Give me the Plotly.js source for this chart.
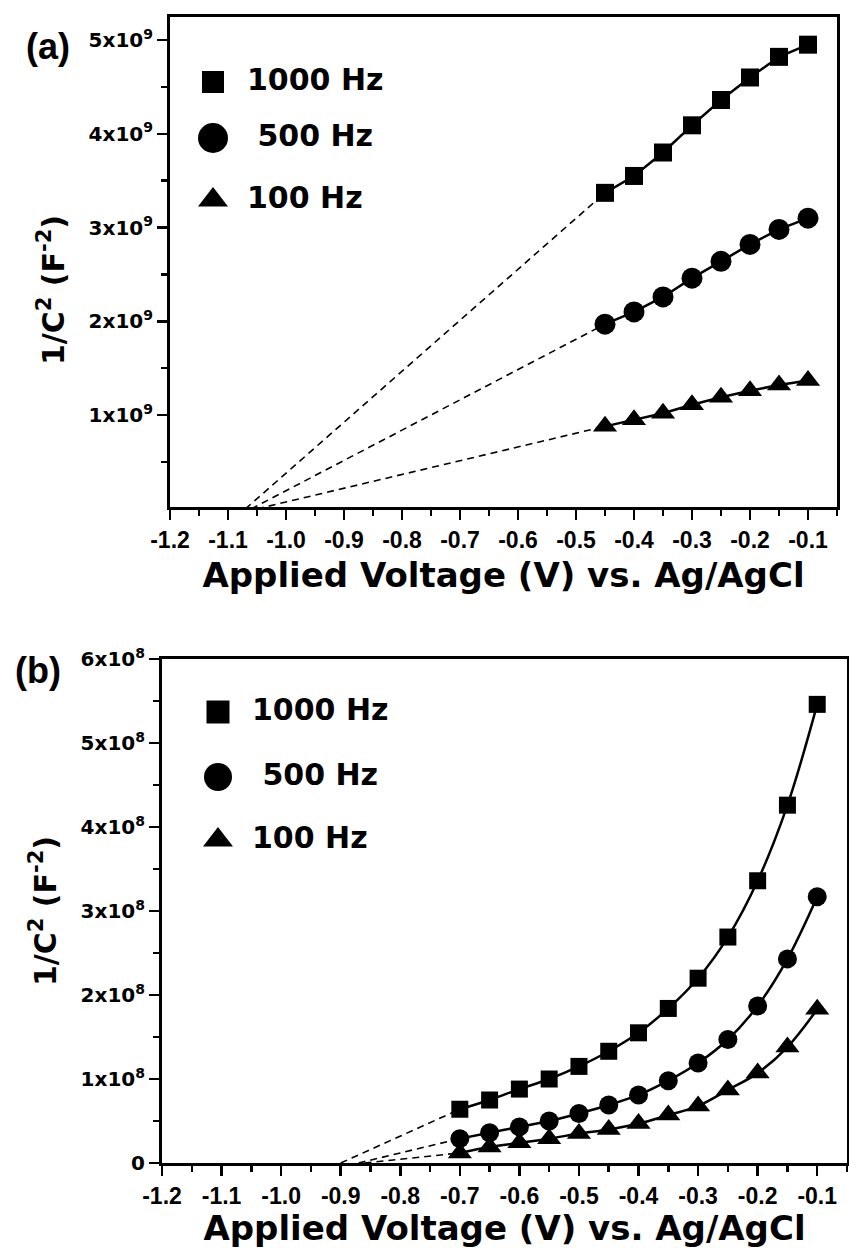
<!DOCTYPE html>
<html>
<head>
<meta charset="utf-8">
<script src="https://cdn.plot.ly/plotly-3.0.1.min.js"></script>
<style>
  html, body { margin: 0; padding: 0; background: #fff; }
  #chart { width: 849px; height: 1248px; }
</style>
</head>
<body>
<div id="chart"></div>
<script>
// ---------------- DATA ----------------
const seriesNames = ['1000 Hz', '\u00a0500 Hz', '100 Hz'];
const seriesSymbols = ['square', 'circle', 'triangle-up'];

// Panel (a)
const voltageA = [-0.45, -0.40, -0.35, -0.30, -0.25, -0.20, -0.15, -0.10];
const a1000 = [3.37e9, 3.55e9, 3.80e9, 4.09e9, 4.36e9, 4.60e9, 4.82e9, 4.95e9];
const a500  = [1.97e9, 2.10e9, 2.26e9, 2.46e9, 2.64e9, 2.82e9, 2.98e9, 3.10e9];
const a100  = [0.88e9, 0.95e9, 1.02e9, 1.11e9, 1.19e9, 1.26e9, 1.32e9, 1.37e9];
const interceptA = [-1.07, -1.06, -1.05];   // extrapolated x where 1/C^2 = 0

// Panel (b)
const voltageB = [-0.70, -0.65, -0.60, -0.55, -0.50, -0.45, -0.40, -0.35, -0.30, -0.25, -0.20, -0.15, -0.10];
const b1000 = [0.64e8, 0.75e8, 0.88e8, 1.00e8, 1.15e8, 1.33e8, 1.55e8, 1.84e8, 2.20e8, 2.69e8, 3.36e8, 4.26e8, 5.46e8];
const b500  = [0.29e8, 0.36e8, 0.43e8, 0.50e8, 0.59e8, 0.69e8, 0.81e8, 0.98e8, 1.19e8, 1.47e8, 1.87e8, 2.43e8, 3.17e8];
const b100  = [0.12e8, 0.19e8, 0.24e8, 0.29e8, 0.35e8, 0.40e8, 0.47e8, 0.57e8, 0.68e8, 0.87e8, 1.07e8, 1.38e8, 1.83e8];
const interceptB = [-0.90, -0.87, -0.86];

// Tick labels
const xTickVals = [-1.2, -1.1, -1.0, -0.9, -0.8, -0.7, -0.6, -0.5, -0.4, -0.3, -0.2, -0.1];
const xTickText = ['-1.2', '-1.1', '-1.0', '-0.9', '-0.8', '-0.7', '-0.6', '-0.5', '-0.4', '-0.3', '-0.2', '-0.1'];
const yTickValsA = [1e9, 2e9, 3e9, 4e9, 5e9];
const yTickTextA = ['1x10<sup>9</sup>', '2x10<sup>9</sup>', '3x10<sup>9</sup>', '4x10<sup>9</sup>', '5x10<sup>9</sup>'];
const yTickValsB = [0, 1e8, 2e8, 3e8, 4e8, 5e8, 6e8];
const yTickTextB = ['0', '1x10<sup>8</sup>', '2x10<sup>8</sup>', '3x10<sup>8</sup>', '4x10<sup>8</sup>', '5x10<sup>8</sup>', '6x10<sup>8</sup>'];

const xTitle = 'Applied Voltage (V) vs. Ag/AgCl';
const yTitle = '1/C<sup>2</sup> (F<sup>-2</sup>)';

// ---------------- STYLE ----------------
const W = 849, H = 1248;
const BLACK = '#000';
const markerSizesA = [18, 21, 21];
const markerSizesB = [17, 19, 21];
const legendSizesA = [22, 30, 26];
const legendSizesB = [23, 28, 26];

const seriesA = [a1000, a500, a100];
const seriesB = [b1000, b500, b100];
const bold = s => '<b>' + s + '</b>';

const traces = [];

// dashed extrapolation lines
seriesA.forEach((ys, i) => {
  traces.push({
    x: [interceptA[i], voltageA[0]], y: [0, ys[0]],
    xaxis: 'x', yaxis: 'y', mode: 'lines', showlegend: false, hoverinfo: 'skip',
    line: { color: BLACK, width: 1.6, dash: '7px,5px' }
  });
});
seriesB.forEach((ys, i) => {
  traces.push({
    x: [interceptB[i], voltageB[0]], y: [0, ys[0]],
    xaxis: 'x2', yaxis: 'y2', mode: 'lines', showlegend: false, hoverinfo: 'skip',
    line: { color: BLACK, width: 1.6, dash: '7px,5px' }
  });
});

// data series
seriesA.forEach((ys, i) => {
  traces.push({
    x: voltageA, y: ys, xaxis: 'x', yaxis: 'y', name: seriesNames[i],
    mode: 'lines+markers', showlegend: false,
    line: { color: BLACK, width: 2.5 },
    marker: { symbol: seriesSymbols[i], size: markerSizesA[i], color: BLACK, opacity: 1 }
  });
});
seriesB.forEach((ys, i) => {
  traces.push({
    x: voltageB, y: ys, xaxis: 'x2', yaxis: 'y2', name: seriesNames[i],
    mode: 'lines+markers', showlegend: false,
    line: { color: BLACK, width: 2.5, shape: 'spline', smoothing: 1 },
    marker: { symbol: seriesSymbols[i], size: markerSizesB[i], color: BLACK, opacity: 1 }
  });
});

// Custom legends drawn in pixel-unit overlay axes
function addLegend(xa, ya, symX, textX, rowYs, sizes) {
  traces.push({
    x: rowYs.map(() => symX), y: rowYs, xaxis: xa, yaxis: ya, mode: 'markers',
    showlegend: false, hoverinfo: 'skip', cliponaxis: false,
    marker: { symbol: seriesSymbols, size: sizes, color: BLACK, opacity: 1, line: { width: 0 } }
  });
  traces.push({
    x: rowYs.map(() => textX), y: rowYs, xaxis: xa, yaxis: ya, mode: 'text',
    text: seriesNames.map(bold), textposition: 'middle right', showlegend: false, hoverinfo: 'skip',
    cliponaxis: false,
    textfont: { family: 'DejaVu Sans', size: 30, weight: 'bold', color: BLACK }
  });
}
addLegend('x3', 'y3', 213, 247, [82, 138, 200], legendSizesA);
addLegend('x4', 'y4', 218, 252, [712, 777, 840], legendSizesB);

const tickFontX = { family: 'Liberation Sans', size: 23, weight: 'bold', color: BLACK };
const tickFontY = { family: 'DejaVu Sans', size: 20, weight: 'bold', color: BLACK };
const xTitleFont = { family: 'DejaVu Sans', size: 34, weight: 'bold', color: BLACK };
const yTitleFont = { family: 'DejaVu Sans', size: 30, weight: 'bold', color: BLACK };

function xAxis(domainPx, anchor) {
  return {
    domain: [domainPx[0] / W, domainPx[1] / W], anchor: anchor,
    range: [-1.2, -0.05], tickmode: 'array', tickvals: xTickVals, ticktext: xTickText.map(bold),
    ticks: 'outside', ticklen: 10, tickwidth: 2.5, tickcolor: BLACK,
    minor: { ticks: 'outside', ticklen: 6, tickwidth: 2.5, tickcolor: BLACK, dtick: 0.05, tick0: -1.2 },
    showline: true, linewidth: 3, linecolor: BLACK, mirror: true,
    showgrid: false, zeroline: false, tickfont: tickFontX,
    title: { text: xTitle, font: xTitleFont, standoff: 12 }
  };
}
function yAxis(domainPx, anchor, range, vals, text, minorD) {
  return {
    domain: [1 - domainPx[1] / H, 1 - domainPx[0] / H], anchor: anchor,
    range: range, tickmode: 'array', tickvals: vals, ticktext: text,
    ticks: 'outside', ticklen: 10, tickwidth: 2.5, tickcolor: BLACK,
    minor: { ticks: 'outside', ticklen: 6, tickwidth: 2.5, tickcolor: BLACK, dtick: minorD, tick0: 0 },
    showline: true, linewidth: 3, linecolor: BLACK, mirror: true,
    showgrid: false, zeroline: false, tickfont: tickFontY,
    title: { text: yTitle, font: yTitleFont, standoff: 16 }
  };
}
const hiddenAxis = (over, anchor, range) => ({
  overlaying: over, anchor: anchor, range: range, visible: false, fixedrange: true,
  showticklabels: false, ticks: '', showgrid: false, zeroline: false, showline: false
});

const layout = {
  width: W, height: H,
  margin: { l: 0, r: 0, t: 0, b: 0, pad: 0 },
  paper_bgcolor: '#fff', plot_bgcolor: 'rgba(0,0,0,0)',
  showlegend: false,
  font: { family: 'DejaVu Sans', color: BLACK },
  xaxis: xAxis([170, 837], 'y'),
  yaxis: yAxis([17, 507], 'x', [0.02e9, 5.245e9], yTickValsA, yTickTextA, 5e8),
  xaxis2: xAxis([162, 847], 'y2'),
  yaxis2: yAxis([659, 1163], 'x2', [0, 6e8], yTickValsB, yTickTextB, 5e7),
  xaxis3: hiddenAxis('x', 'y3', [170, 837]),
  yaxis3: hiddenAxis('y', 'x3', [507, 17]),
  xaxis4: hiddenAxis('x2', 'y4', [162, 847]),
  yaxis4: hiddenAxis('y2', 'x4', [1163, 659]),
  annotations: [
    { text: '(a)', xref: 'paper', yref: 'paper', x: 48 / W, y: 1 - 47 / H, xanchor: 'center', yanchor: 'middle',
      showarrow: false, font: { family: 'Liberation Sans', size: 36, weight: 'bold', color: BLACK } },
    { text: '(b)', xref: 'paper', yref: 'paper', x: 38 / W, y: 1 - 670 / H, xanchor: 'center', yanchor: 'middle',
      showarrow: false, font: { family: 'Liberation Sans', size: 36, weight: 'bold', color: BLACK } }
  ]
};

Plotly.newPlot('chart', traces, layout, { staticPlot: true, displayModeBar: false }).then(() => {
  // In the reference, panel (a)'s y-axis title sits a little below the axis centre.
  const t = document.querySelector('.g-ytitle');
  if (t) t.setAttribute('transform', 'translate(0,28)');
});
</script>
</body>
</html>
